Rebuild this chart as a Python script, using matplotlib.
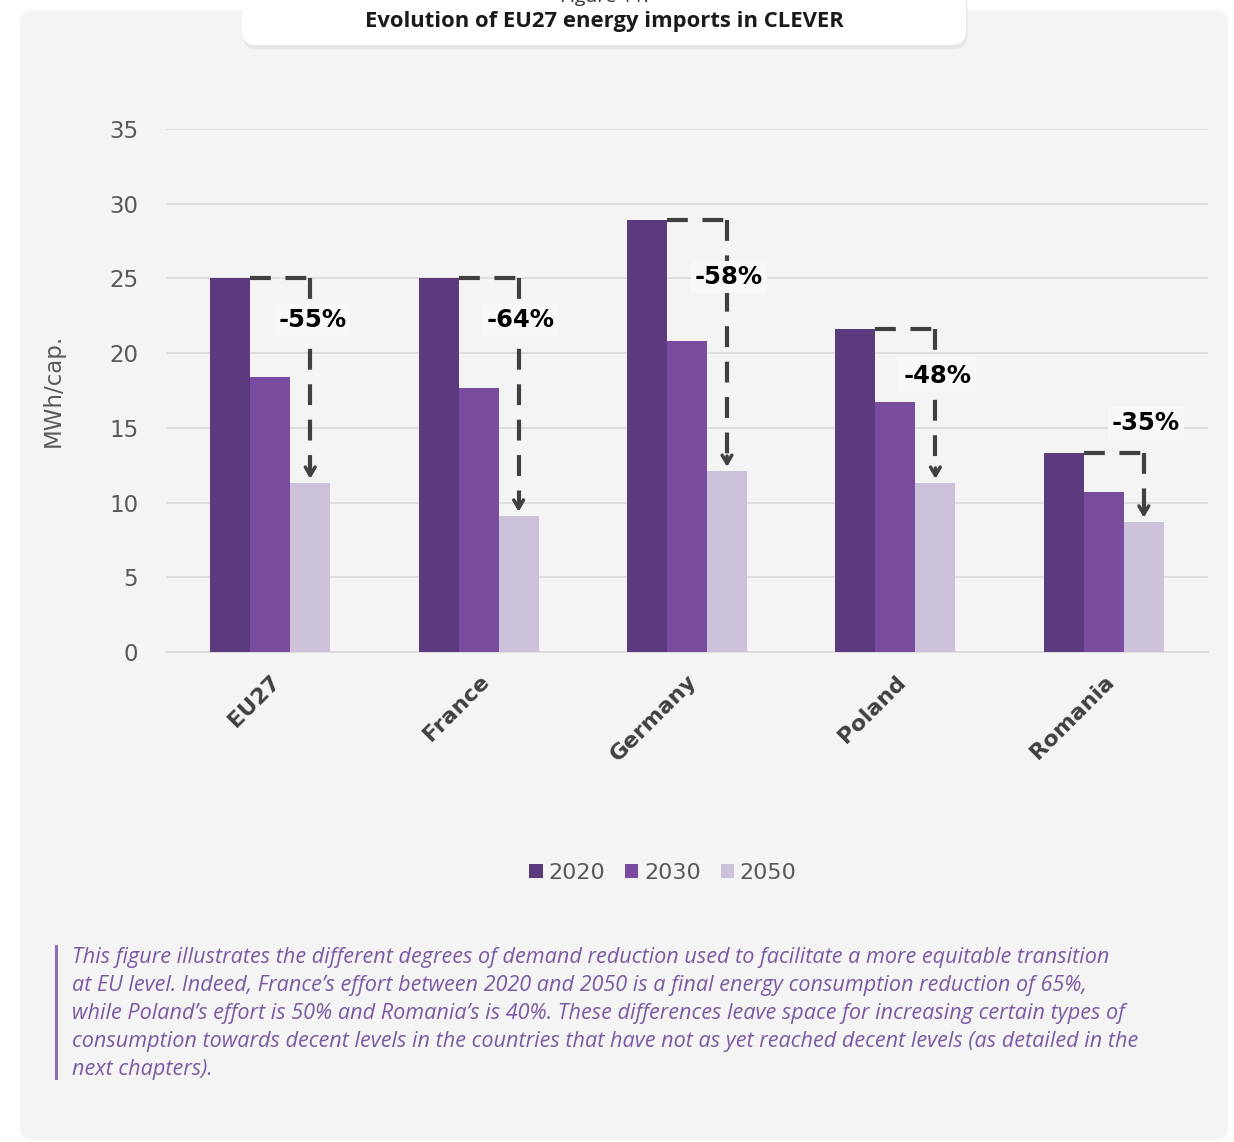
import numpy as np
import matplotlib.pyplot as plt
from matplotlib.patches import FancyBboxPatch, Rectangle

# данные с картинки
countries = ["EU27", "France", "Germany", "Poland", "Romania"]
years = ["2020", "2030", "2050"]
v2020 = [25.0, 25.0, 28.9, 21.6, 13.3]
v2030 = [18.4, 17.7, 20.8, 16.7, 10.7]
v2050 = [11.3, 9.1, 12.1, 11.3, 8.7]
drops = ["-55%", "-64%", "-58%", "-48%", "-35%"]
label_y = [22.2, 22.2, 25.1, 18.5, 15.3]

colors = ["#5c3a7e", "#7a4c9f", "#cbc2da"]
W, H = 1234, 1142
bg = "#f4f4f4"

fig = plt.figure(figsize=(W / 100, H / 100), dpi=100)
fig.patch.set_facecolor("white")

def px(x, y):
    return x / W, 1 - y / H

# серая подложка
x0, y0 = px(20, 1140)
x1, y1 = px(1228, 10)
fig.patches.append(FancyBboxPatch((x0, y0), x1 - x0, y1 - y0,
                                  boxstyle="round,pad=0,rounding_size=0.012",
                                  transform=fig.transFigure, facecolor=bg,
                                  edgecolor="none", zorder=0))
# белая плашка заголовка с тенью
tx0, ty0 = px(242, 45)
tx1, ty1 = px(966, -20)
fig.patches.append(FancyBboxPatch((tx0 + 0.001, ty0 - 0.004), tx1 - tx0, ty1 - ty0,
                                  boxstyle="round,pad=0,rounding_size=0.012",
                                  transform=fig.transFigure, facecolor="#e6e6e6",
                                  edgecolor="none", zorder=1))
fig.patches.append(FancyBboxPatch((tx0, ty0), tx1 - tx0, ty1 - ty0,
                                  boxstyle="round,pad=0,rounding_size=0.012",
                                  transform=fig.transFigure, facecolor="white",
                                  edgecolor="none", zorder=2))
fig.text(*px(604, -3), "Figure 11.", ha="center", va="center", fontsize=14,
         family="Open Sans", color="#333333", zorder=3)
fig.text(*px(604, 21), "Evolution of EU27 energy imports in CLEVER", ha="center",
         va="center", fontsize=15.8, family="Open Sans", fontweight="bold",
         color="#1a1a1a", zorder=3)

# оси графика
ax_l, ax_b = px(166, 652)
ax_r, ax_t = px(1208, 129)
ax = fig.add_axes([ax_l, ax_b, ax_r - ax_l, ax_t - ax_b])
ax.set_facecolor(bg)
ax.set_zorder(4)

x = np.arange(len(countries))
w = 0.192
for k, (vals, c) in enumerate(zip([v2020, v2030, v2050], colors)):
    ax.bar(x + (k - 1) * w, vals, width=w, color=c, label=years[k], zorder=3)

ax.set_xlim(-0.5, 4.5)
ax.set_ylim(0, 35)
ax.set_yticks(range(0, 36, 5))
ax.grid(axis="y", color="#d9d9d9", linewidth=1.2, zorder=0)
for s in ["top", "right", "left"]:
    ax.spines[s].set_visible(False)
ax.spines["bottom"].set_color("#d9d9d9")
ax.spines["bottom"].set_linewidth(1.2)
ax.tick_params(axis="both", length=0, colors="#595959")
ax.tick_params(axis="y", labelsize=16.5, pad=20)
ax.set_xticks(x)
ax.set_xticklabels(countries, rotation=45, ha="right", rotation_mode="anchor",
                   fontsize=16, fontweight="bold", color="#404040")
ax.tick_params(axis="x", pad=14)
ax.set_ylabel("MWh/cap.", fontsize=16.5, color="#595959", labelpad=32)

# стрелки снижения
lc = "#404040"
for i in range(len(countries)):
    xs = x[i] - w / 2
    xe = x[i] + w
    top = v2020[i]
    bot = v2050[i]
    ax.plot([xs, xe], [top, top], color=lc, lw=3, dashes=(5, 3.5), zorder=5,
            solid_capstyle="butt")
    ax.plot([xe, xe], [top, bot + 0.8], color=lc, lw=3, dashes=(5, 3.5), zorder=5)
    ax.annotate("", xy=(xe, bot + 0.1), xytext=(xe, bot + 1.2),
                arrowprops=dict(arrowstyle="->,head_length=0.6,head_width=0.35",
                                color=lc, lw=2.5), zorder=6)
    ax.text(xe + 0.01, label_y[i], drops[i], ha="center", va="center",
            fontsize=17.5, fontweight="bold", color="black", zorder=7,
            bbox=dict(facecolor="#f8f8f8", edgecolor="none", pad=3))

# легенда
handles, labels = ax.get_legend_handles_labels()
fig.legend(handles, labels, loc="center", bbox_to_anchor=px(663, 873), ncol=3,
           frameon=False, fontsize=16, handlelength=0.6, handleheight=0.6,
           handletextpad=0.25, columnspacing=0.9, labelcolor="#595959")

# подпись
caption = [
    "This figure illustrates the different degrees of demand reduction used to facilitate a more equitable transition",
    "at EU level. Indeed, France\u2019s effort between 2020 and 2050 is a final energy consumption reduction of 65%,",
    "while Poland\u2019s effort is 50% and Romania\u2019s is 40%. These differences leave space for increasing certain types of",
    "consumption towards decent levels in the countries that have not as yet reached decent levels (as detailed in the",
    "next chapters).",
]
for j, line in enumerate(caption):
    fig.text(*px(72, 957 + 28 * j), line, ha="left", va="center", fontsize=15.6,
             family="Open Sans", style="italic", color="#7a5aa3", zorder=3)
bx, by = px(55, 1080)
fig.patches.append(Rectangle((bx, by), 3 / W, 135 / H, transform=fig.transFigure,
                             facecolor="#8e6bb5", edgecolor="none", zorder=3))

fig.savefig("out.png", dpi=100, facecolor=fig.get_facecolor())
